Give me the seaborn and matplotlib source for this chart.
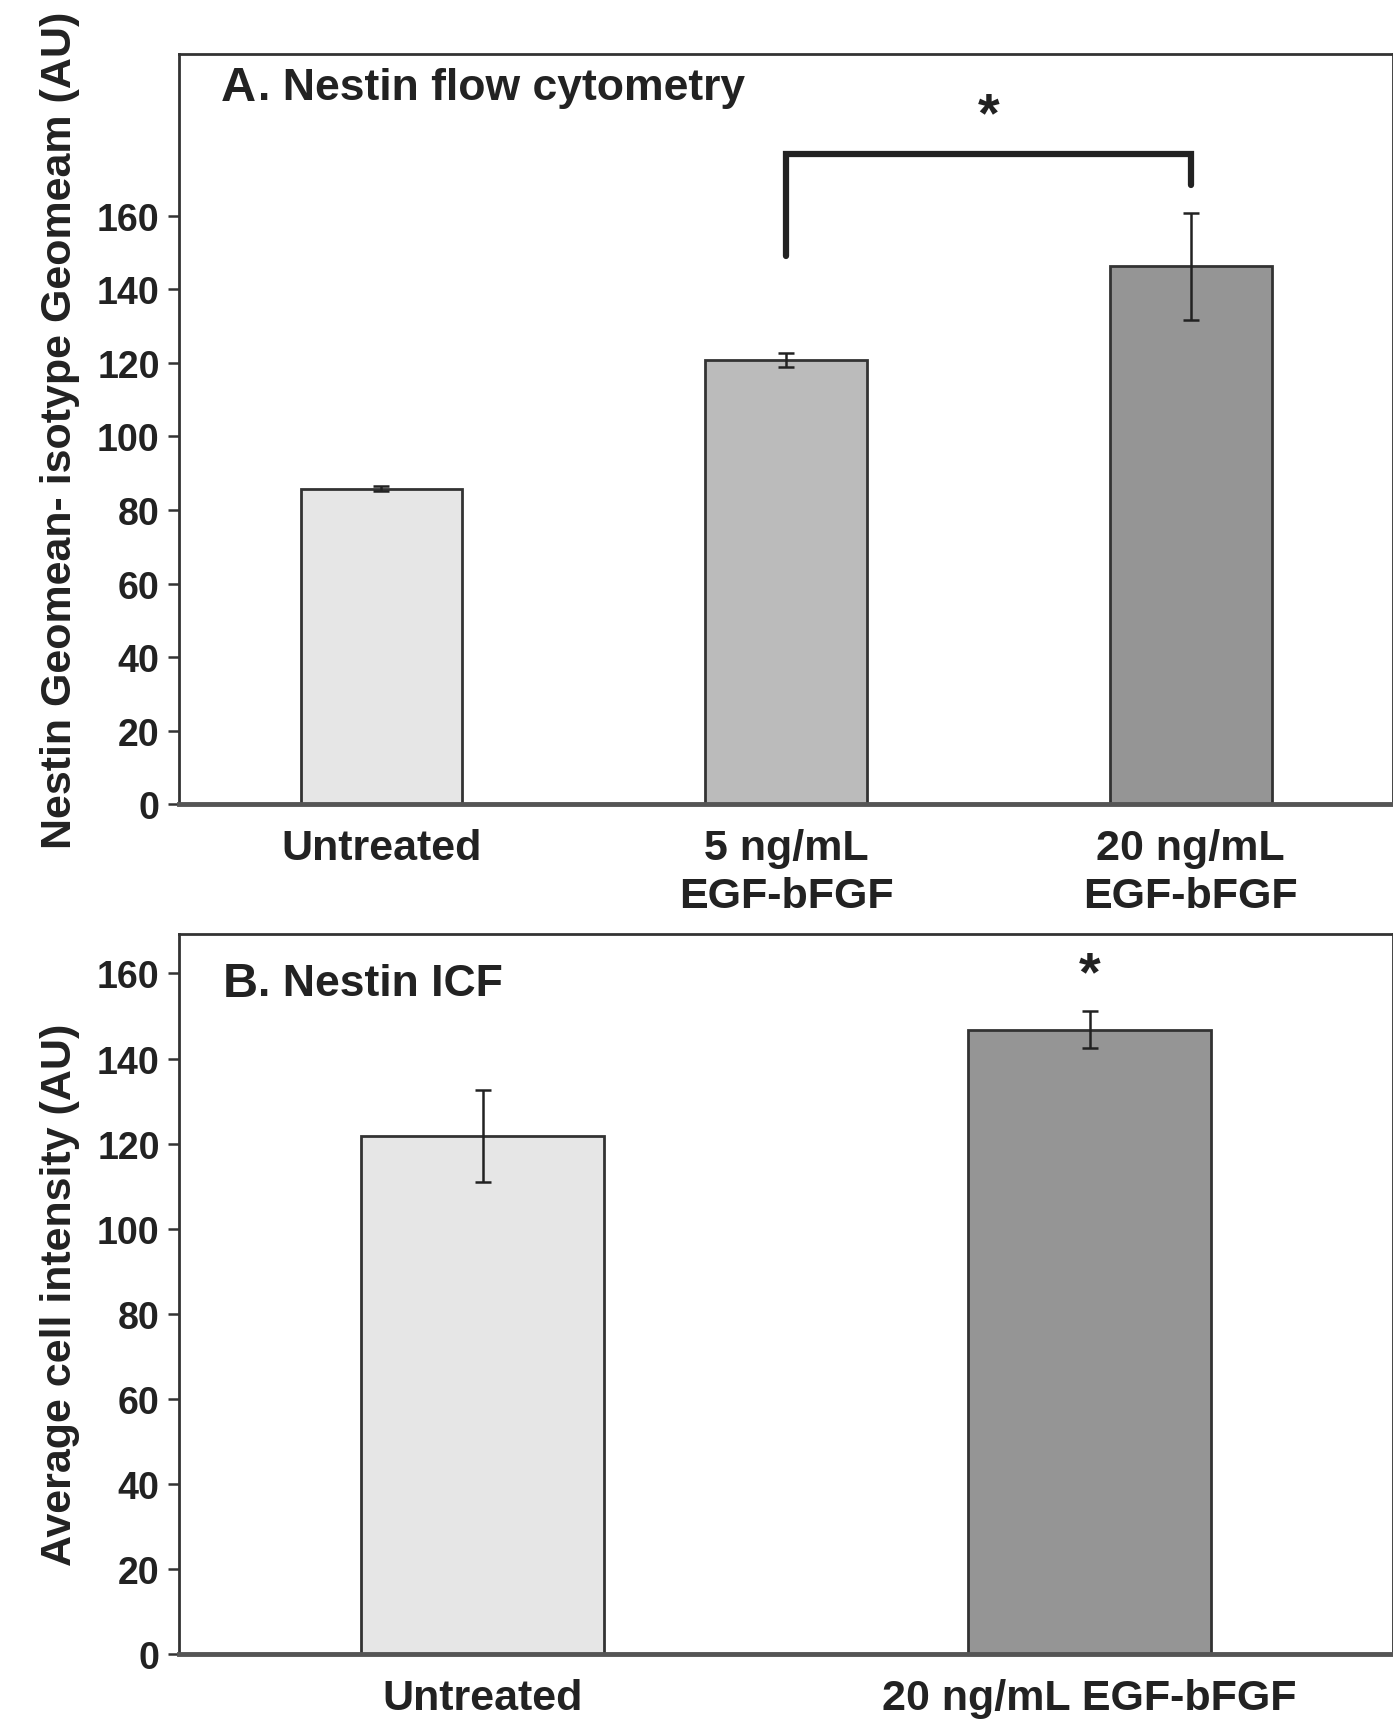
import numpy as np
import pandas as pd
import matplotlib
matplotlib.use("Agg")
import matplotlib.pyplot as plt
import seaborn as sns

# Panel A: flow cytometry
a_groups = ["Untreated", "5 ng/mL\nEGF-bFGF", "20 ng/mL\nEGF-bFGF"]
a_values = [85.8, 120.8, 146.3]
a_errors = [0.6, 2.0, 14.6]
a_colors = ["#e6e6e6", "#bbbbbb", "#959595"]

# Panel B: ICF
b_groups = ["Untreated", "20 ng/mL EGF-bFGF"]
b_values = [121.7, 146.8]
b_errors = [10.8, 4.4]
b_colors = ["#e6e6e6", "#959595"]

a_yticks = [0, 20, 40, 60, 80, 100, 120, 140, 160]
b_yticks = [0, 20, 40, 60, 80, 100, 120, 140, 160]

sns.set_style("white")
plt.rcParams['font.family'] = ['Liberation Sans Narrow', 'Liberation Sans', 'DejaVu Sans']
plt.rcParams['font.weight'] = 'bold'

fig = plt.figure(figsize=(13.93, 17.24), dpi=100)
ax_a = fig.add_axes([0.1286, 0.533, 0.8714, 0.435])
ax_b = fig.add_axes([0.1286, 0.040, 0.8714, 0.4177])

edge = "#333333"
ytick_fs = 27
xtick_fs = 31
label_fs = 31


def draw_panel(ax, groups, values, errors, colors, ymax, yticks):
    df = pd.DataFrame({"group": groups, "value": values})
    sns.barplot(data=df, x="group", y="value", hue="group", palette=colors,
                width=0.4, edgecolor=edge, linewidth=2, legend=False, ax=ax)
    ax.errorbar(range(len(groups)), values, yerr=errors, fmt="none",
                ecolor="#222222", elinewidth=1.8, capsize=6, capthick=1.8)
    ax.set_xlim(-0.5, len(groups) - 0.5)
    ax.set_ylim(0, ymax)
    ax.set_yticks(yticks)
    ax.set_xlabel("")
    for s in ax.spines.values():
        s.set_visible(True)
        s.set_color("#333333")
        s.set_linewidth(2)
    ax.spines["bottom"].set_linewidth(3.5)
    ax.spines["bottom"].set_color("#555555")
    ax.tick_params(axis="y", left=True, length=8, width=1.8, color="#333333",
                   labelsize=ytick_fs, pad=6)
    ax.tick_params(axis="x", bottom=False, labelsize=xtick_fs, pad=14)
    for lab in ax.get_xticklabels() + ax.get_yticklabels():
        lab.set_fontweight("bold")
        lab.set_color("#222222")
    for lab in ax.get_xticklabels():
        lab.set_linespacing(1.25)


draw_panel(ax_a, a_groups, a_values, a_errors, a_colors, 204, a_yticks)
ax_a.set_ylabel("Nestin Geomean- isotype Geomeam (AU)", fontsize=label_fs,
                fontweight="bold", family=["Liberation Sans", "DejaVu Sans"],
                color="#222222", labelpad=12)
ax_a.text(0.034, 0.955, "A", transform=ax_a.transAxes, fontsize=35,
          fontweight="bold", va="center", ha="left", color="#222222")
ax_a.text(0.034 + 0.031, 0.955, ". Nestin flow cytometry", transform=ax_a.transAxes,
          fontsize=32, fontweight="bold", va="center", ha="left", color="#222222")

# significance bracket between 5 ng/mL and 20 ng/mL
ax_a.plot([1, 1, 2, 2], [149, 176.8, 176.8, 168.4], color="#222222", lw=4.5,
          solid_joinstyle="miter")
ax_a.text(1.5, 187, "*", ha="center", va="center", fontsize=40,
          fontweight="bold", color="#222222")

draw_panel(ax_b, b_groups, b_values, b_errors, b_colors, 169.3, b_yticks)
ax_b.set_ylabel("Average cell intensity (AU)", fontsize=label_fs,
                fontweight="bold", family=["Liberation Sans", "DejaVu Sans"],
                color="#222222", labelpad=12)
ax_b.text(0.036, 0.931, "B", transform=ax_b.transAxes, fontsize=35,
          fontweight="bold", va="center", ha="left", color="#222222")
ax_b.text(0.036 + 0.029, 0.931, ". Nestin ICF", transform=ax_b.transAxes,
          fontsize=32, fontweight="bold", va="center", ha="left", color="#222222")
ax_b.text(1, 159.5, "*", ha="center", va="center", fontsize=40,
          fontweight="bold", color="#222222")

fig.savefig("out.png", dpi=100, facecolor="white")
